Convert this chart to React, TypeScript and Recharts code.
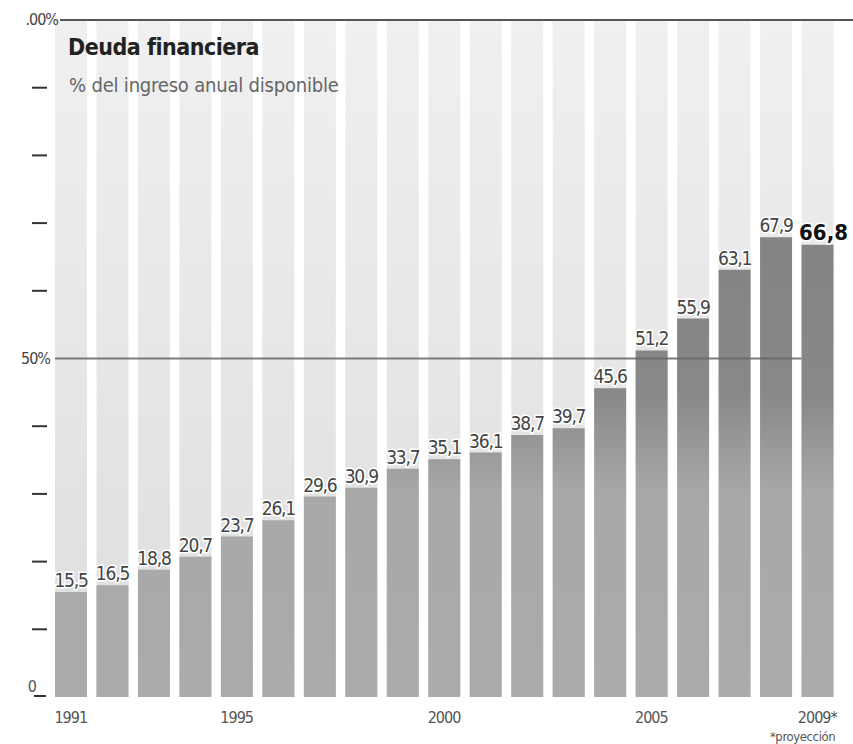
import { BarChart, Bar, XAxis, YAxis, ReferenceLine, LabelList } from 'recharts';

// años y deuda financiera (% del ingreso anual disponible)
const years = ['1991', '1992', '1993', '1994', '1995', '1996', '1997', '1998', '1999', '2000', '2001', '2002', '2003', '2004', '2005', '2006', '2007', '2008', '2009'];
const deuda = [15.5, 16.5, 18.8, 20.7, 23.7, 26.1, 29.6, 30.9, 33.7, 35.1, 36.1, 38.7, 39.7, 45.6, 51.2, 55.9, 63.1, 67.9, 66.8];
const shownYears: Record<string, string> = { '1991': '1991', '1995': '1995', '2000': '2000', '2005': '2005', '2009': '2009*' };
const yTicks = [0, 10, 20, 30, 40, 50, 60, 70, 80, 90, 100];
const yLabels: Record<number, string> = { 0: '0', 50: '50%', 100: '.00%' };

const data = years.map((year, i) => ({ year, deuda: deuda[i] }));

const FONT = '"DejaVu Sans Condensed", "Liberation Sans Narrow", "Roboto Condensed", "Arial Narrow", "Liberation Sans", sans-serif';
const BAR_W = 32;

function YTick(props: any) {
    const { x, y, payload } = props;
    const v = payload.value;
    if (v === 0) {
        return (
            <g>
                <text x={x - 13} y={y - 5} textAnchor="end" fontSize={16} fill="#555" fontFamily={FONT}>0</text>
                <line x1={x - 16} x2={x - 4} y1={y - 1} y2={y - 1} stroke="#333" strokeWidth={2} />
            </g>
        );
    }
    if (yLabels[v]) {
        return (
            <text x={x + (v === 100 ? 8 : 0)} y={y + 5} textAnchor="end" fontSize={16} fill="#444" fontFamily={FONT} letterSpacing={-1}>
                {yLabels[v]}
            </text>
        );
    }
    return <line x1={x - 18} x2={x - 3} y1={y} y2={y} stroke="#333" strokeWidth={2} />;
}

function XTick(props: any) {
    const { x, y, payload } = props;
    const label = shownYears[payload.value];
    if (!label) return null;
    return (
        <g>
            <text x={x} y={y + 24} textAnchor="middle" fontSize={16} fill="#555" fontFamily={FONT} letterSpacing={-1}>
                {label}
            </text>
            {payload.value === '2009' && (
                <text x={x + 18} y={y + 42} textAnchor="end" fontSize={13} fill="#555" fontFamily={FONT} letterSpacing={-0.4}>
                    *proyección
                </text>
            )}
        </g>
    );
}

function ValueLabel(props: any) {
    const { x, y, width, value, index } = props;
    const last = index === deuda.length - 1;
    return (
        <text
            x={x + width / 2 + (last ? 6 : 0)}
            y={y - 5}
            textAnchor="middle"
            fontSize={last ? 22 : 19}
            fontWeight={last ? 700 : 400}
            fill={last ? '#111' : '#444'}
            fontFamily={FONT}
            letterSpacing={last ? 0 : -1.2}
            stroke="#fff"
            strokeWidth={3}
            paintOrder="stroke"
        >
            {String(value).replace('.', ',')}
        </text>
    );
}

// línea del 50%: termina antes de la última barra
function HalfLine(props: any) {
    const { x1, x2, y1 } = props;
    const band = (x2 - x1) / years.length;
    const end = x2 - band + (band - BAR_W) / 2;
    return <line x1={x1 + 5} x2={end} y1={y1} y2={y1} stroke="#666" strokeWidth={2} strokeOpacity={0.85} />;
}

function TopLine(props: any) {
    const { x1, x2, y1 } = props;
    return <line x1={x1 + 10} x2={x2 + 15} y1={y1} y2={y1} stroke="#555" strokeWidth={2} />;
}

export default function App() {
    return (
        <div style={{ position: 'absolute', left: 0, top: 0, width: 853, height: 744, background: '#fff' }}>
            <BarChart width={853} height={744} data={data} margin={{ top: 20, right: 15, left: 0, bottom: 0 }}>
                <defs>
                    <linearGradient id="bgCol" x1="0" y1="0" x2="0" y2="1">
                        <stop offset="0%" stopColor="#f0f0f0" />
                        <stop offset="100%" stopColor="#dddddd" />
                    </linearGradient>
                    <linearGradient id="barFill" gradientUnits="userSpaceOnUse" x1="0" y1="20" x2="0" y2="697">
                        <stop offset="0%" stopColor="#7e7e7e" />
                        <stop offset="55%" stopColor="#888888" />
                        <stop offset="70%" stopColor="#a8a8a8" />
                        <stop offset="100%" stopColor="#ababab" />
                    </linearGradient>
                </defs>
                <XAxis dataKey="year" height={47} interval={0} tickLine={false} axisLine={false} tickSize={0} tick={<XTick />} />
                <YAxis
                    domain={[0, 100]}
                    ticks={yTicks}
                    width={50}
                    tickLine={false}
                    axisLine={false}
                    tickSize={0}
                    tickMargin={0}
                    tick={<YTick />}
                />
                <Bar dataKey="deuda" fill="url(#barFill)" barSize={BAR_W} background={{ fill: 'url(#bgCol)' }} isAnimationActive={false}>
                    <LabelList dataKey="deuda" content={<ValueLabel />} />
                </Bar>
                <ReferenceLine y={50} shape={<HalfLine />} />
                <ReferenceLine y={100} shape={<TopLine />} />
            </BarChart>
            <div style={{ position: 'absolute', left: 68, top: 34, fontFamily: FONT, fontWeight: 700, fontSize: 23, color: '#222', letterSpacing: -0.5 }}>
                Deuda financiera
            </div>
            <div style={{ position: 'absolute', left: 69, top: 73, fontFamily: FONT, fontSize: 20, color: '#666', letterSpacing: -0.2 }}>
                % del ingreso anual disponible
            </div>
        </div>
    );
}
